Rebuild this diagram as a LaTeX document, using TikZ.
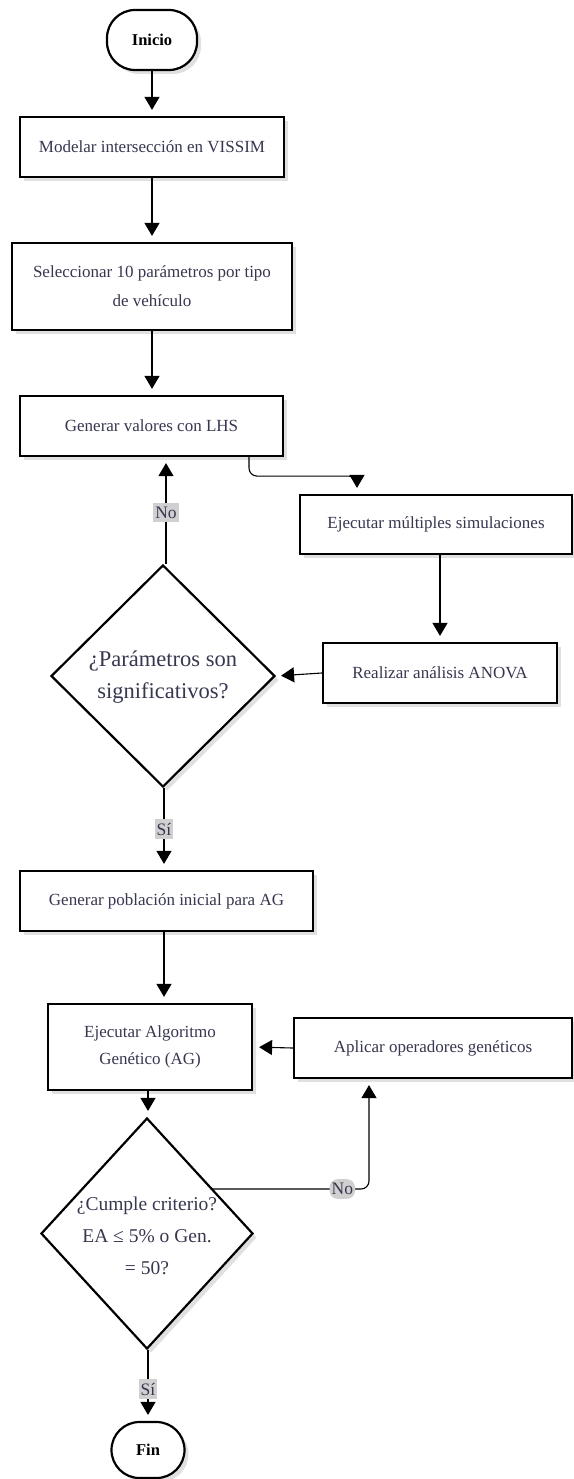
\documentclass[tikz,border=0pt]{standalone}
\usepackage{fontspec}
\setmainfont{Liberation Serif}
\usetikzlibrary{shapes.geometric,arrows.meta,shadows,calc}
\definecolor{txt}{RGB}{55,55,80}
\definecolor{lblbg}{RGB}{208,208,208}
\begin{document}
\begin{tikzpicture}[x=1pt,y=-1pt,
  shd/.style={drop shadow={opacity=0.12,shadow xshift=4pt,shadow yshift=-4pt,fill=black}},
  procbox/.style={draw=black,line width=2.2pt,fill=white,shd,inner sep=0pt,text=txt,align=center,font=\fontsize{17}{29}\selectfont},
  term/.style={draw=black,line width=2.2pt,fill=white,shd,rounded corners=28pt,inner sep=0pt,text=black,font=\fontsize{16.5}{20}\selectfont\bfseries},
  decision/.style={draw=black,line width=2.2pt,fill=white,shd,diamond,inner sep=0pt},
  dtext/.style={text=txt,align=center,inner sep=0pt},
  conn/.style={draw=black,line width=1.1pt,-{Triangle[width=15pt,length=13pt]},shorten >=6pt},
  lbl/.style={fill=lblbg,text=txt,inner xsep=2pt,inner ysep=4pt,font=\fontsize{17.5}{20}\selectfont}
]
\useasboundingbox (0,0) rectangle (573,1479);

\node[term,minimum width=90pt,minimum height=60pt] (ini) at (152,40) {Inicio};
\node[procbox,minimum width=264pt,minimum height=60pt] (b1) at (152,147) {Modelar intersección en VISSIM};
\node[procbox,minimum width=280pt,minimum height=87pt] (b2) at (152,286.5) {Seleccionar 10 parámetros por tipo\\de vehículo};
\node[procbox,minimum width=263pt,minimum height=60pt] (b3) at (151.5,426) {Generar valores con LHS};
\node[procbox,minimum width=272pt,minimum height=59pt] (b4) at (436,524.5) {Ejecutar múltiples simulaciones};
\node[procbox,minimum width=234pt,minimum height=60pt] (b5) at (440,673) {Realizar análisis ANOVA};
\node[decision,minimum width=224pt,minimum height=222pt] (d1) at (163,676) {};
\node[dtext,font=\fontsize{22.5}{32}\selectfont] (d1t) at (163,677) {¿Parámetros son\\significativos?};
\node[procbox,minimum width=293pt,minimum height=60pt] (b6) at (166.5,901) {Generar población inicial para AG};
\node[procbox,minimum width=204pt,minimum height=86pt,font=\fontsize{17}{27}\selectfont] (b7) at (150,1047) {Ejecutar Algoritmo\\Genético (AG)};
\node[procbox,minimum width=278pt,minimum height=60pt] (b8) at (433,1048) {Aplicar operadores genéticos};
\node[decision,minimum width=212pt,minimum height=231pt] (d2) at (147,1233.5) {};
\node[dtext,font=\fontsize{19.5}{32}\selectfont] (d2t) at (147,1236) {¿Cumple criterio?\\EA ≤ 5\% o Gen.\\= 50?};
\node[term,minimum width=73pt,minimum height=56pt] (fin) at (148,1450) {Fin};

\coordinate (c1) at ($(b3.south)+(97.5,0)$);
\coordinate (c2) at ($(b4.north)+(-79,0)$);
\coordinate (c3) at (212,1189);
\coordinate (c4) at ($(b8.south)+(-64,0)$);

\draw[conn] (ini.south) -- (b1.north);
\draw[conn] (b1.south) -- (b2.north);
\draw[conn] (b2.south) -- (b2.south |- b3.north);
\draw[conn,rounded corners=8pt] (c1) -- ($(c1)+(0,19)$) -| (c2);
\draw[conn] (b4.south -| b5.north) -- (b5.north);
\draw[conn,shorten >=5pt] (b5.west) -- (d1.east);
\draw[conn] ($(d1.north)+(3,0)$) -- node[lbl,pos=0.48] (no1) {No} ($(d1.north |- b3.south)+(3,0)$);
\draw[conn] ($(d1.south)+(1,0)$) -- node[lbl,pos=0.5] (si1) {Sí} ($(d1.south |- b6.north)+(1,0)$);
\draw[conn] ($(d1.south |- b6.south)+(1,0)$) -- ($(d1.south |- b7.north)+(1,0)$);
\draw[conn] (b8.west) -- (b7.east);
\draw[conn] ($(b7.south)+(-2,0)$) -- ($(d2.north)+(1,0)$);
\draw[conn,rounded corners=8pt] (c3) -- node[lbl,pos=0.83] (no2) {No} (c4 |- c3) -- (c4);
\draw[conn] ($(d2.south)+(1,0)$) -- node[lbl,pos=0.55] (si2) {Sí} (fin.north);
\end{tikzpicture}
\end{document}
